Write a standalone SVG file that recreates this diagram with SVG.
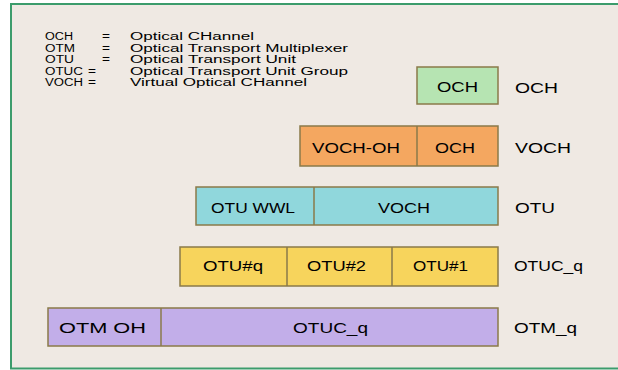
<svg xmlns="http://www.w3.org/2000/svg" width="618" height="370" viewBox="0 0 618 370">
<style>
text{font-family:"Liberation Sans",Arial,sans-serif;fill:#000}
.lg{font-size:10px}
.bx{font-size:14px}
.box{stroke:#8a7a4a;stroke-width:1.5}
.div{stroke:#8a7a4a;stroke-width:1.5}
</style>
<rect x="0" y="0" width="618" height="370" fill="#ffffff"/>
<rect x="11" y="4" width="640" height="364.5" fill="#efe9e3" stroke="#3c9c6c" stroke-width="2"/>
<g id="legend" class="lg">
<text class="lg" x="45" y="40" textLength="28" lengthAdjust="spacingAndGlyphs">OCH</text>
<text class="lg" x="102" y="40" textLength="8" lengthAdjust="spacingAndGlyphs">=</text>
<text class="lg" x="130" y="40" textLength="124" lengthAdjust="spacingAndGlyphs">Optical CHannel</text>
<text class="lg" x="45" y="51.5" textLength="30" lengthAdjust="spacingAndGlyphs">OTM</text>
<text class="lg" x="102" y="51.5" textLength="8" lengthAdjust="spacingAndGlyphs">=</text>
<text class="lg" x="130" y="51.5" textLength="218" lengthAdjust="spacingAndGlyphs">Optical Transport Multiplexer</text>
<text class="lg" x="45" y="63" textLength="29" lengthAdjust="spacingAndGlyphs">OTU</text>
<text class="lg" x="102" y="63" textLength="8" lengthAdjust="spacingAndGlyphs">=</text>
<text class="lg" x="130" y="63" textLength="166" lengthAdjust="spacingAndGlyphs">Optical Transport Unit</text>
<text class="lg" x="45" y="74.5" textLength="38" lengthAdjust="spacingAndGlyphs">OTUC</text>
<text class="lg" x="88" y="74.5" textLength="8" lengthAdjust="spacingAndGlyphs">=</text>
<text class="lg" x="130" y="74.5" textLength="218" lengthAdjust="spacingAndGlyphs">Optical Transport Unit Group</text>
<text class="lg" x="45" y="86" textLength="38" lengthAdjust="spacingAndGlyphs">VOCH</text>
<text class="lg" x="88" y="86" textLength="8" lengthAdjust="spacingAndGlyphs">=</text>
<text class="lg" x="130" y="86" textLength="177" lengthAdjust="spacingAndGlyphs">Virtual Optical CHannel</text>
</g>
<g id="och">
<rect class="box" x="417" y="67" width="81" height="37" fill="#b6e4b2"/>
<text class="bx" x="437" y="92" textLength="41" lengthAdjust="spacingAndGlyphs">OCH</text>
<text class="bx" x="515" y="92.5" textLength="43" lengthAdjust="spacingAndGlyphs">OCH</text>
</g>
<g id="voch">
<rect class="box" x="300" y="126" width="198" height="40" fill="#f4a760"/>
<line class="div" x1="417" y1="126" x2="417" y2="166"/>
<text class="bx" x="312" y="153" textLength="88" lengthAdjust="spacingAndGlyphs">VOCH-OH</text>
<text class="bx" x="435" y="153" textLength="40" lengthAdjust="spacingAndGlyphs">OCH</text>
<text class="bx" x="515" y="153" textLength="56" lengthAdjust="spacingAndGlyphs">VOCH</text>
</g>
<g id="otu">
<rect class="box" x="196" y="187" width="302" height="38" fill="#90d7dc"/>
<line class="div" x1="314" y1="187" x2="314" y2="225"/>
<text class="bx" x="211" y="212.5" textLength="84" lengthAdjust="spacingAndGlyphs">OTU WWL</text>
<text class="bx" x="378" y="212.5" textLength="52" lengthAdjust="spacingAndGlyphs">VOCH</text>
<text class="bx" x="515" y="212.5" textLength="40" lengthAdjust="spacingAndGlyphs">OTU</text>
</g>
<g id="otuc">
<rect class="box" x="180" y="247" width="318" height="39" fill="#f7d45c"/>
<line class="div" x1="287" y1="247" x2="287" y2="286"/>
<line class="div" x1="392" y1="247" x2="392" y2="286"/>
<text class="bx" x="203" y="271" textLength="60" lengthAdjust="spacingAndGlyphs">OTU#q</text>
<text class="bx" x="307" y="271" textLength="59" lengthAdjust="spacingAndGlyphs">OTU#2</text>
<text class="bx" x="413" y="271" textLength="55" lengthAdjust="spacingAndGlyphs">OTU#1</text>
<text class="bx" x="514" y="271" textLength="69" lengthAdjust="spacingAndGlyphs">OTUC_q</text>
</g>
<g id="otm">
<rect class="box" x="48" y="308" width="450" height="38" fill="#c2aee9"/>
<line class="div" x1="161" y1="308" x2="161" y2="346"/>
<text class="bx" x="59" y="333" textLength="87" lengthAdjust="spacingAndGlyphs">OTM OH</text>
<text class="bx" x="293" y="333" textLength="75" lengthAdjust="spacingAndGlyphs">OTUC_q</text>
<text class="bx" x="514" y="333" textLength="63" lengthAdjust="spacingAndGlyphs">OTM_q</text>
</g>
<g id="connectors"></g>
</svg>
